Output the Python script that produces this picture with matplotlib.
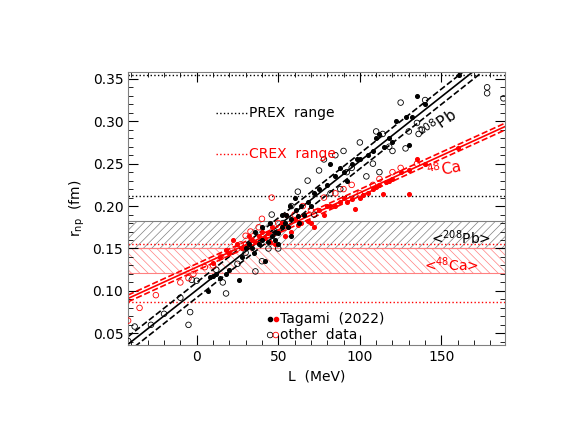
import matplotlib
matplotlib.use("Agg")
import matplotlib.pyplot as plt
import numpy as np

# Pb Tagami (filled black)
pb_tag = [(7,0.10),(8,0.116),(10,0.118),(12,0.12),(14,0.115),(18,0.12),(20,0.125),(26,0.113),(28,0.14),
          (30,0.15),(32,0.155),(34,0.15),(35,0.145),(38,0.155),(40,0.16),(42,0.135),(44,0.158),(46,0.165),
          (48,0.17),(50,0.168),(52,0.175),(54,0.18),(55,0.19),(56,0.175),(58,0.185),(60,0.21),(61,0.195),
          (62,0.188),(64,0.2),(66,0.19),(68,0.205),(70,0.2),(72,0.215),(75,0.22),(80,0.225),(82,0.25),
          (85,0.235),(88,0.245),(90,0.24),(92,0.23),(95,0.25),(98,0.255),(100,0.255),(105,0.26),(108,0.265),
          (110,0.28),(112,0.285),(115,0.27),(118,0.28),(120,0.275),(122,0.3),(128,0.305),(130,0.272),
          (132,0.305),(135,0.33),(140,0.32),(161,0.354),(40,0.175),(45,0.18),(48,0.16),(52,0.19),(57,0.2),
          (63,0.18),(36,0.17),(50,0.155),(58,0.165)]
# Pb other data (open black)
pb_oth = [(-42,0.041),(-38,0.058),(-28,0.06),(-20,0.073),(-10,0.092),(-5,0.06),(-4,0.075),(-3,0.113),
          (0,0.112),(12,0.125),(16,0.11),(18,0.097),(25,0.132),(36,0.123),(40,0.135),(44,0.15),(46,0.19),
          (48,0.17),(53,0.18),(58,0.2),(62,0.217),(68,0.23),(75,0.242),(78,0.255),(82,0.215),(85,0.26),
          (88,0.22),(90,0.265),(92,0.24),(95,0.245),(100,0.275),(104,0.235),(108,0.25),(110,0.288),
          (112,0.24),(114,0.285),(118,0.27),(120,0.265),(125,0.322),(128,0.268),(130,0.288),(135,0.298),
          (136,0.285),(138,0.29),(140,0.325),(178,0.34),(178,0.333),(188,0.327),(72,0.19),(30,0.145),(50,0.15)]
# Ca Tagami (filled red)
ca_tag = [(10,0.133),(14,0.14),(18,0.148),(20,0.145),(22,0.16),(25,0.155),(28,0.15),(30,0.152),(32,0.165),
          (34,0.16),(36,0.158),(38,0.165),(40,0.17),(42,0.162),(44,0.168),(46,0.175),(48,0.155),(50,0.17),
          (52,0.18),(54,0.165),(56,0.175),(58,0.17),(60,0.185),(62,0.178),(64,0.18),(66,0.19),(68,0.182),
          (70,0.18),(72,0.175),(75,0.195),(78,0.19),(80,0.2),(82,0.2),(85,0.2),(88,0.205),(90,0.21),
          (92,0.205),(95,0.208),(97,0.197),(100,0.21),(102,0.213),(105,0.215),(108,0.22),(110,0.222),
          (112,0.225),(114,0.214),(116,0.228),(118,0.23),(120,0.232),(125,0.24),(130,0.243),(130,0.214),
          (135,0.255),(140,0.25),(160,0.268),(45,0.158),(55,0.19)]
# Ca other data (open red)
ca_oth = [(-42,0.065),(-35,0.08),(-25,0.095),(-10,0.11),(-2,0.12),(5,0.128),(10,0.13),(15,0.14),(20,0.145),
          (25,0.15),(30,0.165),(33,0.17),(38,0.175),(40,0.185),(46,0.21),(50,0.18),(60,0.19),(65,0.2),
          (70,0.195),(78,0.21),(85,0.215),(90,0.22),(95,0.225),(100,0.215),(108,0.225),(112,0.232),
          (120,0.24),(125,0.245),(135,0.25),(-5,0.115),(27,0.155)]

pb_fit = (0.101, 0.00152, 0.009)   # intercept, slope, band
ca_fit = (0.128, 0.000877, 0.004)
prex = (0.212, 0.355)
crex = (0.087, 0.155)
pb_band = (0.150, 0.183)
ca_band = (0.121, 0.151)

fig = plt.figure(figsize=(5.72, 4.42), dpi=100)
ax = fig.add_axes([0.224, 0.219, 0.659, 0.618])
xmin, xmax = -42, 189
ax.set_xlim(xmin, xmax)
ax.set_ylim(0.036, 0.358)

plt.rcParams["hatch.linewidth"] = 0.5
ax.axhspan(*pb_band, facecolor="none", edgecolor="gray", hatch="////", lw=0.8)
ax.axhspan(*ca_band, facecolor="none", edgecolor="#ff8080", hatch="\\\\\\\\", lw=0.8)
for y in prex:
    ax.axhline(y, color="k", ls=":", lw=1)
for y in crex:
    ax.axhline(y, color="red", ls=":", lw=1)

xs = np.array([xmin, xmax])
for (a, b, d), c in [(pb_fit, "k"), (ca_fit, "red")]:
    ax.plot(xs, a + b * xs, color=c, lw=1.2)
    ax.plot(xs, a + d + b * xs, color=c, lw=1.2, ls="--")
    ax.plot(xs, a - d + b * xs, color=c, lw=1.2, ls="--")

for pts, c, filled in [(pb_oth, "k", False), (ca_oth, "red", False), (ca_tag, "red", True), (pb_tag, "k", True)]:
    p = np.array(pts)
    if filled:
        ax.scatter(p[:, 0], p[:, 1], s=7, color=c, zorder=3)
    else:
        ax.scatter(p[:, 0], p[:, 1], s=16, facecolors="none", edgecolors=c, lw=0.6, zorder=3)

ax.plot([12, 31], [0.31, 0.31], "k:", lw=1)
ax.text(32, 0.31, "PREX  range", va="center", fontsize=10)
ax.plot([12, 31], [0.261, 0.261], ":", color="red", lw=1)
ax.text(32, 0.261, "CREX  range", va="center", fontsize=10, color="red")
ax.text(148, 0.296, r"$^{208}$Pb", fontsize=11, rotation=35, ha="center", va="center")
ax.text(152, 0.244, r"$^{48}$Ca", fontsize=11, rotation=12, ha="center", va="center", color="red")
ax.text(162, 0.163, r"<$^{208}$Pb>", fontsize=10, ha="center", va="center")
ax.text(156, 0.131, r"<$^{48}$Ca>", fontsize=10, ha="center", va="center", color="red")

ax.scatter([45], [0.067], s=9, color="k")
ax.scatter([48.5], [0.067], s=9, color="red")
ax.scatter([45], [0.048], s=16, facecolors="none", edgecolors="k", lw=0.6)
ax.scatter([48.5], [0.048], s=16, facecolors="none", edgecolors="red", lw=0.6)
ax.text(51, 0.067, "Tagami  (2022)", va="center", fontsize=10)
ax.text(51, 0.048, "other  data", va="center", fontsize=10)

ax.set_xticks([0, 50, 100, 150])
ax.set_yticks([0.05, 0.10, 0.15, 0.20, 0.25, 0.30, 0.35])
ax.set_yticklabels(["0.05", "0.10", "0.15", "0.20", "0.25", "0.30", "0.35"])
ax.minorticks_on()
ax.tick_params(which="both", direction="in", top=True, right=True, labelsize=10)
ax.tick_params(which="major", length=7)
ax.tick_params(which="minor", length=3.5)
for s in ax.spines.values():
    s.set_color("gray")
ax.set_xlabel("L  (MeV)", fontsize=10)
ax.set_ylabel(r"r$_{\rm np}$  (fm)", fontsize=10)

fig.savefig("out.png", dpi=100)
